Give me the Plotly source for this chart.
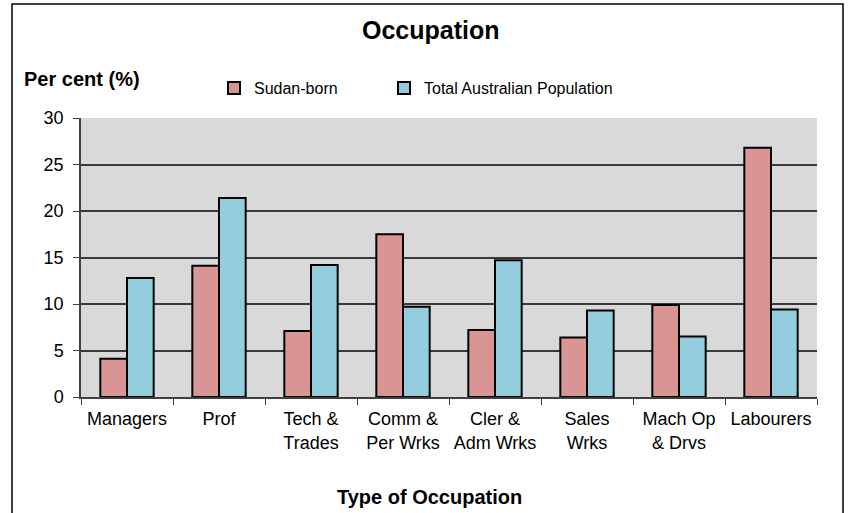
import plotly.graph_objects as go

categories = ["Managers", "Prof", "Tech &<br>Trades", "Comm &<br>Per Wrks",
              "Cler &<br>Adm Wrks", "Sales<br>Wrks", "Mach Op<br>& Drvs", "Labourers"]
sudan_born = [4.1, 14.1, 7.1, 17.5, 7.2, 6.4, 9.9, 26.8]
total_aus = [12.8, 21.4, 14.2, 9.7, 14.7, 9.3, 6.5, 9.4]
y_ticks = [0, 5, 10, 15, 20, 25, 30]

FONT = "Liberation Sans, Arial, sans-serif"

fig = go.Figure()
fig.add_trace(go.Bar(x=categories, y=sudan_born, name="Sudan-born", legend="legend",
                     marker=dict(color="#d99594", line=dict(color="black", width=2))))
fig.add_trace(go.Bar(x=categories, y=total_aus, name="Total Australian Population", legend="legend2",
                     marker=dict(color="#93cddd", line=dict(color="black", width=2))))

W, H = 848, 513
# plot area in window pixels: x 81..817, y 118..397
L, T = 81, 118
R = W - 817
B = H - 397
pw, ph = W - L - R, H - T - B

def px_x(x):
    return (x - L) / pw

def px_y(y):
    return (H - B - y) / ph

legend_common = dict(orientation="h", yanchor="middle", xanchor="left",
                     font=dict(size=16, family=FONT), itemwidth=30,
                     bgcolor="rgba(0,0,0,0)")

fig.update_layout(
    width=W, height=H,
    margin=dict(l=L, r=R, t=T, b=B, pad=0),
    paper_bgcolor="white", plot_bgcolor="#d9d9d9",
    font=dict(family=FONT, size=18, color="black"),
    barmode="group", bargap=0.42, bargroupgap=0,
    showlegend=True,
    legend=dict(x=px_x(214), y=px_y(88), **legend_common),
    legend2=dict(x=px_x(384), y=px_y(88), **legend_common),
    xaxis=dict(showgrid=False, ticks="outside", tickson="boundaries", ticklen=6,
               tickcolor="#404040", showline=True, linecolor="#404040", linewidth=1.5,
               tickfont=dict(size=18), ticklabelstandoff=5, title=None),
    yaxis=dict(range=[0, 30], tickvals=y_ticks, showgrid=True, gridcolor="#3a3a3a",
               gridwidth=1.5, ticks="outside", ticklen=6, tickcolor="#404040",
               showline=True, linecolor="#404040", linewidth=1.5, zeroline=False,
               tickfont=dict(size=18), ticklabelstandoff=6, title=None),
    annotations=[
        dict(text="<b>Occupation</b>", xref="paper", yref="paper", x=px_x(431), y=px_y(30),
             xanchor="center", yanchor="middle", showarrow=False, font=dict(size=25)),
        dict(text="<b>Per cent (%)</b>", xref="paper", yref="paper", x=px_x(22), y=px_y(79),
             xanchor="left", yanchor="middle", showarrow=False, font=dict(size=20)),
        dict(text="<b>Type of Occupation</b>", xref="paper", yref="paper", x=px_x(429), y=px_y(497),
             xanchor="center", yanchor="middle", showarrow=False, font=dict(size=20)),
    ],
    shapes=[
        dict(type="rect", xref="paper", yref="paper", x0=px_x(12), x1=px_x(843),
             y0=px_y(530), y1=px_y(4), line=dict(color="black", width=1.5), layer="below"),
    ],
)

fig.write_html("out.html", config={"displayModeBar": False},
               post_script="document.body.style.margin='0';document.body.style.overflow='hidden';")
